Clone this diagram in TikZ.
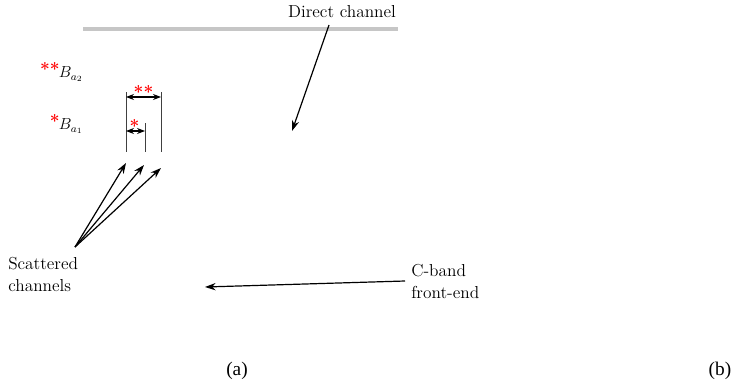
\documentclass[tikz,border=0pt]{standalone}
\usepackage{fontspec}
\newfontfamily\capfont{Liberation Serif}
\usetikzlibrary{arrows.meta}
\begin{document}
\begin{tikzpicture}[x=0.75pt,y=-0.75pt,
  lbl/.style={inner sep=0pt,font=\fontsize{13}{16.5}\selectfont},
  arr/.style={line width=0.9pt,-{Stealth[length=8pt,width=5.5pt]}},
  darr/.style={line width=0.8pt,{Stealth[length=6pt,width=4.5pt]}-{Stealth[length=6pt,width=4.5pt]}},
  vline/.style={line width=0.7pt,black!75},
  star/.style={inner sep=0pt,text=red,font=\fontsize{13}{16}\selectfont\bfseries},
  figcap/.style={inner sep=0pt,font=\capfont\fontsize{14.5}{16}\selectfont}]
\useasboundingbox (0,0) rectangle (734,385);
% direct channel
\node[lbl] (dc) at (342,12) {Direct channel};
\coordinate (glA) at (83,29);
\coordinate (glB) at (398,29);
\draw[gray!45,line width=2.4pt] (glA) -- (glB);
\coordinate (dcS) at (329,25);
\coordinate (dcE) at (292,131);
\draw[arr] (dcS) -- (dcE);
% legend labels
\node[star,anchor=base east] (s2) at (60,75) {**};
\node[inner sep=0pt,anchor=base west,font=\fontsize{12}{14}\selectfont] (b2) at ([xshift=-1pt,yshift=-2pt]s2.base east) {$B_{a_2}$};
\node[star,anchor=base east] (s1) at (60,127) {*};
\node[inner sep=0pt,anchor=base west,font=\fontsize{12}{14}\selectfont] (b1) at ([xshift=-1pt,yshift=-2pt]s1.base east) {$B_{a_1}$};
% vertical lines
\coordinate (v1t) at (126,92);  \coordinate (v1b) at (126,152);
\coordinate (v2t) at (145,123); \coordinate (v2b) at (145,152);
\coordinate (v3t) at (161,92);  \coordinate (v3b) at (161,152);
\draw[vline] (v1t) -- (v1b);
\draw[vline] (v2t) -- (v2b);
\draw[vline] (v3t) -- (v3b);
% dimension arrows
\coordinate (d2a) at (126,97);  \coordinate (d2b) at (161,97);
\draw[darr] (d2a) -- (d2b);
\node[star] (ds2) at (143.5,92) {**};
\coordinate (d1a) at (126,131); \coordinate (d1b) at (145,131);
\draw[darr] (d1a) -- (d1b);
\node[star] (ds1) at (134.5,126) {*};
% scattered channels
\node[lbl,align=left,anchor=north west] (sc) at (8,257) {Scattered\\channels};
\coordinate (scO) at (75,247);
\coordinate (a1) at (126,163);
\coordinate (a2) at (144,165);
\coordinate (a3) at (161,168);
\draw[arr] (scO) -- (a1);
\draw[arr] (scO) -- (a2);
\draw[arr] (scO) -- (a3);
% C-band front-end
\node[lbl,align=left,anchor=north west] (cb) at (411,264) {C-band\\front-end};
\coordinate (cbS) at (405,281);
\coordinate (cbE) at (205,287);
\draw[arr] (cbS) -- (cbE);
% captions
\node[figcap] (ca) at (237,371) {(a)};
\node[figcap] (cbb) at (720,371) {(b)};
\end{tikzpicture}
\end{document}
